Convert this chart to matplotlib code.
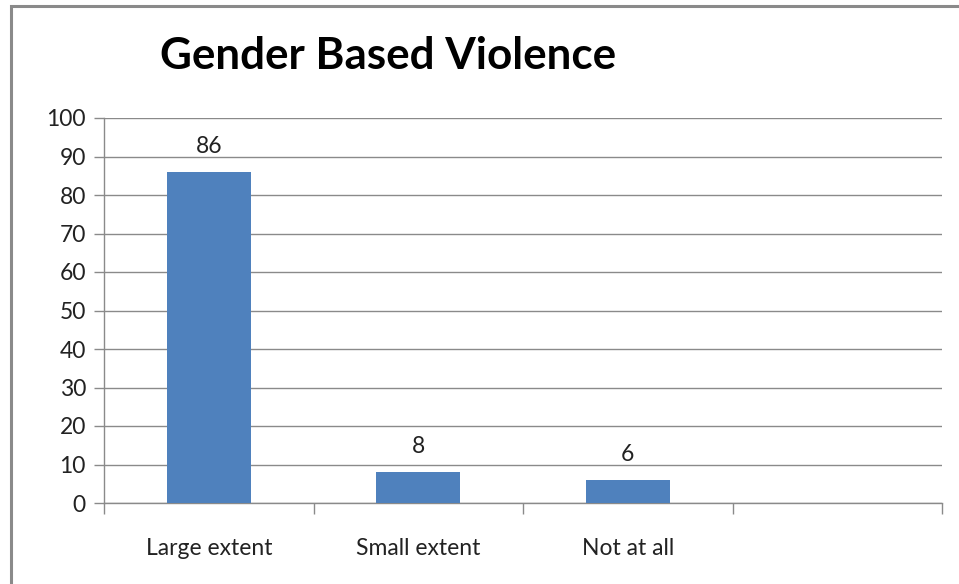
import matplotlib.pyplot as plt
from matplotlib.patches import Rectangle

# data
categories = ['Large extent', 'Small extent', 'Not at all']
values = [86, 8, 6]
yticks = [0, 10, 20, 30, 40, 50, 60, 70, 80, 90, 100]

plt.rcParams['font.family'] = ['Lato', 'DejaVu Sans']

fig = plt.figure(figsize=(9.59, 5.84), dpi=100)
ax = fig.add_axes([104/959, 1 - 503/584, (942 - 104)/959, (503 - 118)/584])

# outer chart border (runs off the right and bottom of the image)
fig.patches.append(Rectangle((11/959, -0.1), 1.2, (584 - 6)/584 + 0.1,
                             transform=fig.transFigure, fill=False,
                             edgecolor='#8a8a8a', linewidth=2.2, zorder=0))

x = list(range(len(categories)))
bars = ax.bar(x, values, width=0.4, color='#4F81BD', zorder=3)
for b, v in zip(bars, values):
    ax.text(b.get_x() + b.get_width()/2, v + 6.6, str(v), ha='center',
            va='center', fontsize=16.5, color='#222222')

ax.set_xlim(-0.5, 3.5)
ax.set_ylim(0, 100)
ax.set_yticks(yticks)
ax.set_yticklabels([str(t) for t in yticks], fontsize=16.5, color='#222222')

# category ticks at boundaries, labels at centers
ax.set_xticks([-0.5, 0.5, 1.5, 2.5, 3.5])
ax.set_xticklabels([])
ax.set_xticks(x, minor=True)
ax.set_xticklabels(categories, minor=True, fontsize=16.5, color='#222222')
ax.tick_params(axis='x', which='major', length=8, color='#8a8a8a', width=1)
ax.tick_params(axis='x', which='minor', length=0, pad=25)
ax.tick_params(axis='y', length=7, color='#8a8a8a', width=1, pad=6)

ax.grid(axis='y', color='#8a8a8a', linewidth=1, zorder=0)
for s in ['top', 'right']:
    ax.spines[s].set_visible(False)
for s in ['left', 'bottom']:
    ax.spines[s].set_color('#8a8a8a')
    ax.spines[s].set_linewidth(1)

fig.text(160/959, 1 - 56/584, 'Gender Based Violence', fontsize=31.7,
         fontweight='bold', ha='left', va='center', color='black')

fig.savefig('out.png', dpi=100)
